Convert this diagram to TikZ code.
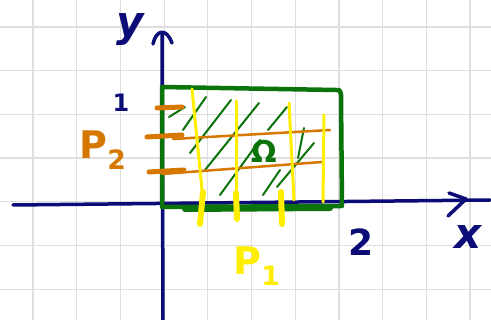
\documentclass[tikz,border=0pt]{standalone}
\usepackage{fontspec}
\setmainfont{DejaVu Sans}
\definecolor{navy}{RGB}{12,12,120}
\definecolor{hgreen}{RGB}{10,115,10}
\definecolor{horange}{RGB}{214,120,0}
\definecolor{hyellow}{RGB}{255,238,0}
\definecolor{gridc}{RGB}{222,222,222}
\tikzset{
  pen/.style={line cap=round, line join=round},
  axispen/.style={pen, navy, line width=3.5pt},
  greenpen/.style={pen, hgreen, line width=4.5pt},
  hatchpen/.style={pen, hgreen, line width=2pt},
  orangepen/.style={pen, horange, line width=2.5pt},
  orangetick/.style={pen, horange, line width=5pt},
  yellowpen/.style={pen, hyellow, line width=3pt},
  yellowthick/.style={pen, hyellow, line width=6pt},
  lbl/.style={inner sep=0pt, font=\fontsize{38}{38}\selectfont\bfseries}
}
\begin{document}
\begin{tikzpicture}[x=1pt,y=-1pt]
\useasboundingbox (0,0) rectangle (491,320);
\fill[white] (0,0) rectangle (491,320);
% grid
\foreach \k in {0,...,10} \draw[gridc, line width=1.2pt] ({33+43.7*\k},0) -- ({33+43.7*\k},320);
\foreach \k in {0,...,6} \draw[gridc, line width=1.2pt] (0,{27+43.7*\k}) -- (491,{27+43.7*\k});
% axes
\coordinate (xs) at (13,205);
\coordinate (xe) at (490,200);
\coordinate (ys) at (163,320);
\coordinate (ye) at (162,33);
\draw[axispen] (xs) -- (xe);
\draw[axispen] (ys) -- (ye);
\draw[axispen] (449,193) -- (466,199) -- (448,216);
\draw[axispen] (153,44) .. controls (156,30) and (166,27) .. (172,43);
% green rectangle
\coordinate (r1) at (162,87);
\coordinate (r2) at (340,90);
\coordinate (r3) at (342,206);
\coordinate (r4) at (162,207);
\draw[greenpen] (r1) -- (336,90) .. controls (340,90) .. (341,95) -- (r3) -- (r4) -- cycle;
\draw[hgreen, line width=6pt, pen] (185,209) -- (330,208);
% hatching
\draw[hatchpen] (169,117) -- (185,107);
\draw[hatchpen] (183,130) -- (206,97);
\draw[hatchpen] (190,153) -- (231,100);
\draw[hatchpen] (205,170) -- (259,103);
\draw[hatchpen] (220,195) -- (260,140);
\draw[hatchpen] (268,130) -- (287,107);
\draw[hatchpen] (263,195) -- (280,170);
\draw[hatchpen] (277,187) -- (314,143);
\draw[hatchpen] (298,158) -- (304,128);
% orange P2 lines
\draw[orangetick] (157,108) -- (182,107);
\draw[orangetick] (147,137) -- (182,135);
\draw[orangetick] (149,172) -- (184,170);
\draw[orangepen] (173,139) -- (330,130);
\draw[orangepen] (162,174) -- (322,162);
% yellow P1 lines
\draw[yellowpen] (192,89) -- (203,200);
\draw[yellowthick] (203,192) -- (200,224);
\draw[yellowpen] (236,101) -- (236,195);
\draw[yellowthick] (236,193) -- (237,219);
\draw[yellowpen] (289,103) -- (294,200);
\draw[yellowthick] (281,192) -- (282,224);
\draw[yellowpen] (324,115) -- (323,202);
% labels
\node[lbl, navy, font=\fontsize{42}{42}\selectfont\bfseries\itshape] (ylab) at (130,30) {y};
\node[lbl, navy, font=\fontsize{24}{24}\selectfont\bfseries] (one) at (121,103) {1};
\node[lbl, navy, font=\fontsize{36}{36}\selectfont\bfseries] (two) at (361,242) {2};
\node[lbl, navy, font=\fontsize{42}{42}\selectfont\bfseries\itshape] (xlab) at (468,237) {x};
\node[lbl, horange] (p2) at (103,150) {P\textsubscript{2}};
\node[lbl, hyellow] (p1) at (257,266) {P\textsubscript{1}};
\node[lbl, hgreen, font=\fontsize{30}{30}\selectfont\bfseries] (omega) at (264,151) {Ω};
\end{tikzpicture}
\end{document}
